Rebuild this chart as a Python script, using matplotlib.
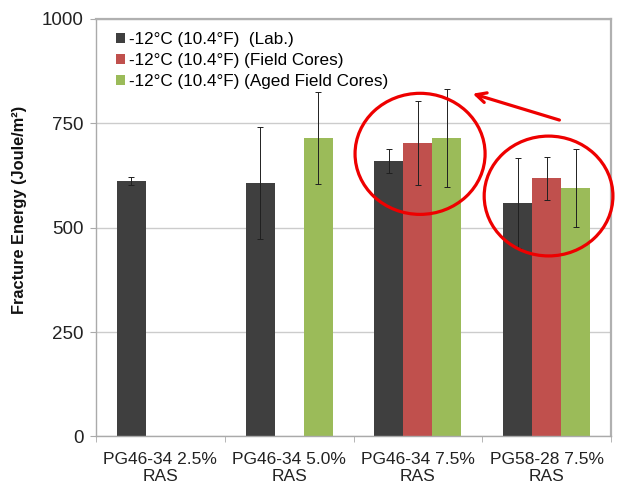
import numpy as np
import matplotlib
matplotlib.use('Agg')
import matplotlib.pyplot as plt
from matplotlib.patches import Ellipse

plt.rcParams['font.family'] = ['Liberation Sans', 'DejaVu Sans']

categories = ['PG46-34 2.5%\nRAS', 'PG46-34 5.0%\nRAS',
              'PG46-34 7.5%\nRAS', 'PG58-28 7.5%\nRAS']
series_names = ['-12°C (10.4°F)  (Lab.)',
                '-12°C (10.4°F) (Field Cores)',
                '-12°C (10.4°F) (Aged Field Cores)']
lab = [612, 607, 660, 559]
lab_err = [10, 134, 28, 108]
field = [np.nan, np.nan, 703, 618]
field_err = [np.nan, np.nan, 100, 52]
aged = [np.nan, 714, 715, 595]
aged_err = [np.nan, 110, 117, 94]
colors = ['#3f3f3f', '#c0504d', '#9bbb59']

fig = plt.figure(figsize=(6.21, 4.87), dpi=100)
ax = fig.add_axes([0.1546, 0.1037, 0.8293, 0.8573])

x = np.arange(len(categories))
width = 0.225
for i, (vals, errs) in enumerate([(lab, lab_err), (field, field_err), (aged, aged_err)]):
    pos = x + (i - 1) * width
    ax.bar(pos, vals, width, color=colors[i], label=series_names[i], zorder=2)
    ax.errorbar(pos, vals, yerr=errs, fmt='none', ecolor='#202020',
                elinewidth=0.7, capsize=2, capthick=0.7, zorder=3)

ax.set_xlim(-0.5, 3.5)
ax.set_ylim(0, 1000)
ax.set_yticks([0, 250, 500, 750, 1000])
ax.yaxis.grid(True, color='#cccccc', linewidth=1, zorder=0)
ax.set_axisbelow(True)

ax.set_xticks(x)
ax.set_xticklabels(categories, fontsize=12.5, linespacing=1.2)
ax.set_xticks(np.arange(-0.5, 4, 1), minor=True)
ax.tick_params(axis='x', which='major', length=0, pad=11, colors='#222222')
ax.tick_params(axis='x', which='minor', length=4, color='#aaaaaa')
ax.tick_params(axis='y', length=4, pad=5, color='#aaaaaa', labelsize=13.5,
               labelcolor='#222222')

for side in ['left', 'bottom']:
    ax.spines[side].set_color('#aaaaaa')
    ax.spines[side].set_linewidth(1)
for side in ['top', 'right']:
    ax.spines[side].set_color('#b0b0b0')
    ax.spines[side].set_linewidth(1.6)

ax.set_ylabel('Fracture Energy (Joule/m²)', fontsize=11.8, fontweight='bold',
              color='#111111')
ax.yaxis.set_label_coords(-0.134, 0.542)

ax.legend(loc='upper left', bbox_to_anchor=(0.025, 0.985), frameon=False,
          fontsize=12.3, handlelength=0.55, handleheight=0.55, handletextpad=0.2,
          labelspacing=0.35, borderaxespad=0)

# red highlight annotations
for cx, cy, w, h in [(2.017, 677, 1.01, 290), (3.015, 576, 1.0, 287)]:
    ax.add_patch(Ellipse((cx, cy), w, h, fill=False, edgecolor='#ee0000',
                         linewidth=2.3, zorder=5, clip_on=False))
ax.annotate('', xy=(2.405, 823), xytext=(3.12, 756),
            arrowprops=dict(arrowstyle='->', color='#ee0000', lw=2.3,
                            mutation_scale=18),
            zorder=5, annotation_clip=False)

fig.savefig('out.png', dpi=100)
